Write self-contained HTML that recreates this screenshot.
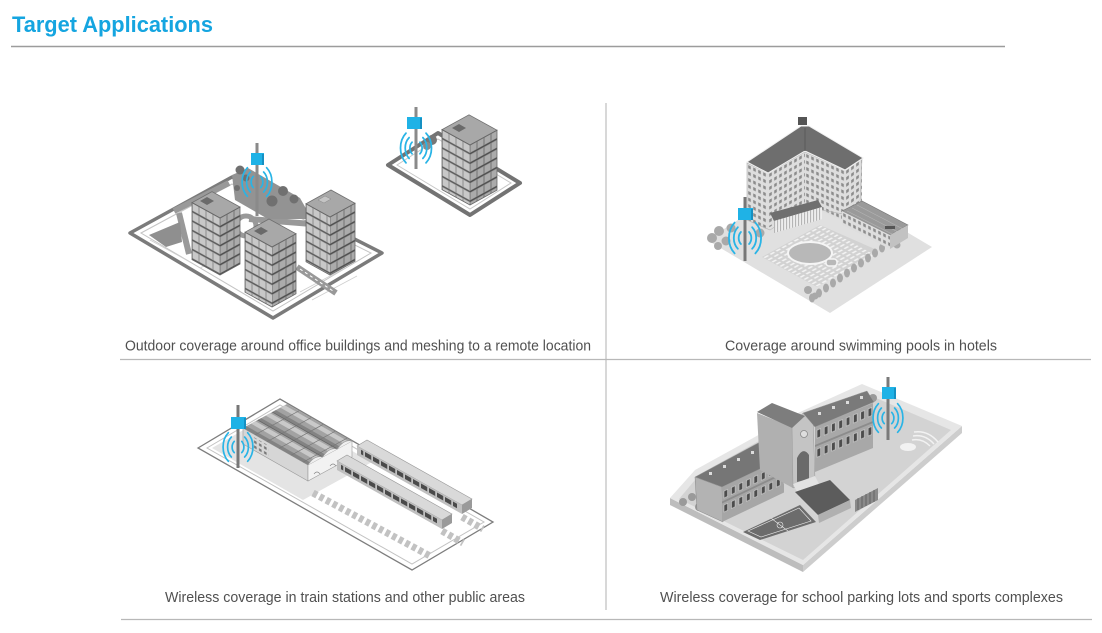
<!DOCTYPE html>
<html><head><meta charset="utf-8"><style>
html,body{margin:0;padding:0;background:#fff;}
svg{display:block;}
</style></head><body>
<svg width="1102" height="633" viewBox="0 0 1102 633" xmlns="http://www.w3.org/2000/svg">
<defs>
<pattern id="fl" width="7" height="9.5" patternUnits="userSpaceOnUse"><rect width="7" height="9.5" fill="#a3a3a3"/><rect x="0.8" y="0.6" width="5.4" height="7" fill="#c8c8c8"/><rect y="8" width="7" height="1.5" fill="#5e5e5e"/></pattern>
<pattern id="fr" width="7" height="9.5" patternUnits="userSpaceOnUse"><rect width="7" height="9.5" fill="#898989"/><rect x="0.8" y="0.6" width="5.4" height="7" fill="#ababab"/><rect y="8" width="7" height="1.5" fill="#505050"/></pattern>
<pattern id="hw" width="5" height="6.5" patternUnits="userSpaceOnUse"><rect width="5" height="6.5" fill="#dedede"/><rect x="1.2" y="1.5" width="2.6" height="3.2" fill="#8c8c8c"/></pattern>
<pattern id="col" width="3" height="20" patternUnits="userSpaceOnUse"><rect width="3" height="20" fill="#ededed"/><rect width="1" height="20" fill="#b0b0b0"/></pattern>
<pattern id="lng" width="6" height="4" patternUnits="userSpaceOnUse"><rect x="0.5" y="1" width="4" height="1.6" fill="#f3f3f3"/></pattern>
<pattern id="tw" width="5" height="5" patternUnits="userSpaceOnUse"><rect x="1" y="1" width="2.6" height="2.6" fill="#7a7a7a"/></pattern>
<pattern id="trw" width="8" height="9" patternUnits="userSpaceOnUse"><rect width="6.2" height="9" fill="#4a4a4a"/></pattern>
<pattern id="sw" width="7.5" height="14" patternUnits="userSpaceOnUse"><rect x="2" y="5" width="3.6" height="7" fill="#4c4c4c" stroke="#e0e0e0" stroke-width="0.5"/></pattern>
<pattern id="sw2" width="7.3" height="19" patternUnits="userSpaceOnUse"><rect x="2" y="4" width="3.6" height="8" fill="#4c4c4c" stroke="#e0e0e0" stroke-width="0.5"/></pattern>
<g id="wv" fill="none" stroke="#29b4e6" stroke-width="1.3" stroke-linecap="round">
<path d="M-2.9,-4.3A4.5,5.6 0 0 0 -2.9,4.3M-5.1,-7.7A8,10 0 0 0 -5.1,7.7M-7.4,-11A11.5,14.4 0 0 0 -7.4,11M2.9,-4.3A4.5,5.6 0 0 1 2.9,4.3M5.1,-7.7A8,10 0 0 1 5.1,7.7M7.4,-11A11.5,14.4 0 0 1 7.4,11"/>
</g>
</defs>

<!-- Title -->
<text x="12" y="32" font-family="Liberation Sans, sans-serif" font-weight="bold" font-size="22.5" fill="#15a5e0" textLength="201" lengthAdjust="spacingAndGlyphs">Target Applications</text>
<line x1="11" y1="46.5" x2="1005" y2="46.5" stroke="#9c9c9c" stroke-width="1.5"/>

<!-- grid lines -->
<line x1="606" y1="103" x2="606" y2="610" stroke="#bdbdbd" stroke-width="1.2"/>
<line x1="120" y1="359.5" x2="1091" y2="359.5" stroke="#b8b8b8" stroke-width="1.2"/>
<line x1="121" y1="619.5" x2="1092" y2="619.5" stroke="#b8b8b8" stroke-width="1.2"/>

<!-- captions -->
<g font-family="Liberation Sans, sans-serif" font-size="15" fill="#505050">
<text x="125" y="350.5" textLength="466" lengthAdjust="spacingAndGlyphs">Outdoor coverage around office buildings and meshing to a remote location</text>
<text x="725" y="350.5" textLength="272" lengthAdjust="spacingAndGlyphs">Coverage around swimming pools in hotels</text>
<text x="165" y="602" textLength="360" lengthAdjust="spacingAndGlyphs">Wireless coverage in train stations and other public areas</text>
<text x="660" y="602" textLength="403" lengthAdjust="spacingAndGlyphs">Wireless coverage for school parking lots and sports complexes</text>
</g>

<!-- ============ OFFICE ============ -->
<polygon points="130,233 232,177 382,253 273,318" fill="#fff" stroke="#7b7b7b" stroke-width="3.5" stroke-linejoin="round"/>
<polygon points="141,233 232,184 371,253 273,311" fill="none" stroke="#c4c4c4" stroke-width="1"/>
<g stroke="#cfcfcf" stroke-width="0.8" fill="none">
<path d="M300,292 L345,268 M312,300 L357,276 M200,268 L240,248 M150,240 L190,262"/>
</g>
<g stroke="#999" stroke-width="6" fill="none">
<path d="M174,211 L229,183"/>
<path d="M179,213 L189,254"/>
<path d="M249,219 L312,224"/>
<path d="M297,267 L336,293"/>
<circle cx="246" cy="226" r="10" stroke-width="5"/>
</g>
<path d="M300,269 L333,291" stroke="#fff" stroke-width="1" stroke-dasharray="3 3"/>
<polygon points="149,235 180,222 182,242 166,247" fill="#8f8f8f"/>
<polygon points="232,175 248,168 300,198 312,219 268,219 235,200" fill="#939393"/>
<g fill="#707070">
<circle cx="240" cy="170" r="4.5"/><circle cx="246" cy="178" r="3.5"/><circle cx="237" cy="188" r="3"/>
<circle cx="283" cy="191" r="5"/><circle cx="272" cy="201" r="5.5"/><circle cx="294" cy="199" r="4.5"/>
</g>
<rect x="255.5" y="143" width="3" height="73" fill="#8a8a8a"/>
<rect x="251" y="153" width="13" height="12" fill="#1fb2e6"/>
<rect x="262" y="154" width="2" height="11" fill="#1690c2"/>
<use href="#wv" transform="translate(257,182) scale(1.3)"/>

<!-- building A -->
<g transform="matrix(1,0.55,0,1,192,202.6)"><rect width="28" height="57" fill="url(#fl)"/></g>
<g transform="matrix(1,-0.55,0,1,220,218)"><rect width="20" height="57" fill="url(#fr)"/></g>
<polygon points="220,218 192,202.6 212,191.6 240,207" fill="#a8a8a8" stroke="#707070" stroke-width="0.8"/>
<polygon points="220,275 192,259.6 192,202.6 220,218 240,207 240,264" fill="none" stroke="#666" stroke-width="0.8"/>
<polygon points="200,201 207,197 214,201 207,205" fill="#6a6a6a"/>
<!-- building C -->
<g transform="matrix(1,0.55,0,1,306,203.8)"><rect width="24" height="58" fill="url(#fl)"/></g>
<g transform="matrix(1,-0.55,0,1,330,217)"><rect width="25" height="58" fill="url(#fr)"/></g>
<polygon points="330,217 306,203.8 331,190 355,203.3" fill="#a8a8a8" stroke="#707070" stroke-width="0.8"/>
<polygon points="330,275 306,261.8 306,203.8 330,217 355,203.3 355,261.3" fill="none" stroke="#666" stroke-width="0.8"/>
<polygon points="318,200 325,196 331,199 324,203" fill="#c4c4c4" stroke="#888" stroke-width="0.5"/>
<!-- building B -->
<g transform="matrix(1,0.55,0,1,245,232.15)"><rect width="27" height="60" fill="url(#fl)"/></g>
<g transform="matrix(1,-0.55,0,1,272,247)"><rect width="24" height="60" fill="url(#fr)"/></g>
<polygon points="272,247 245,232.2 269,219 296,233.8" fill="#a8a8a8" stroke="#707070" stroke-width="0.8"/>
<polygon points="272,307 245,292.2 245,232.2 272,247 296,233.8 296,293.8" fill="none" stroke="#666" stroke-width="0.8"/>
<polygon points="254,231 261,227 268,231 261,235" fill="#6a6a6a"/>

<!-- remote -->
<polygon points="388,165 470,215 520,183 438,133" fill="#fff" stroke="#737373" stroke-width="4" stroke-linejoin="round"/>
<polygon points="397,165 470,209 511,183 438,139" fill="none" stroke="#c8c8c8" stroke-width="1"/>
<circle cx="432" cy="140" r="5" fill="#777"/><circle cx="427" cy="146" r="4" fill="#8a8a8a"/>
<rect x="414.5" y="107" width="3" height="62" fill="#8a8a8a"/>
<rect x="407" y="117" width="15" height="12" fill="#1fb2e6"/>
<rect x="420" y="118" width="2" height="11" fill="#1690c2"/>
<use href="#wv" transform="translate(416,148) scale(1.35)"/>
<g transform="matrix(1,0.55,0,1,442,129.6)"><rect width="28" height="60" fill="url(#fl)"/></g>
<g transform="matrix(1,-0.55,0,1,470,145)"><rect width="27" height="60" fill="url(#fr)"/></g>
<polygon points="470,145 442,129.6 469,114.8 497,130.2" fill="#a8a8a8" stroke="#707070" stroke-width="0.8"/>
<polygon points="470,205 442,189.6 442,129.6 470,145 497,130.2 497,190.2" fill="none" stroke="#666" stroke-width="0.8"/>
<polygon points="452,128 459,124 466,128 459,132" fill="#6a6a6a"/>

<!-- ============ HOTEL ============ -->
<polygon points="707,240 830,313 932,247 809,174" fill="#e0e0e0"/>
<polygon points="762,257 820,225 877,250 817,287" fill="#d2d2d2"/>
<g transform="matrix(1,-0.55,1,0.545,762,257)"><rect width="58" height="55" fill="url(#lng)"/></g>
<ellipse cx="810" cy="253" rx="22" ry="11" fill="#b8b8b8" stroke="#f5f5f5" stroke-width="2"/>
<rect x="826" y="259" width="11" height="7" rx="3" fill="#b8b8b8" stroke="#f5f5f5" stroke-width="1.5"/>
<g fill="#a9a9a9">
<ellipse cx="812" cy="298" rx="3" ry="4.5"/><ellipse cx="819" cy="293" rx="3" ry="4.5"/><ellipse cx="826" cy="288" rx="3" ry="4.5"/>
<ellipse cx="833" cy="283" rx="3" ry="4.5"/><ellipse cx="840" cy="278" rx="3" ry="4.5"/><ellipse cx="847" cy="273" rx="3" ry="4.5"/>
<ellipse cx="854" cy="268" rx="3" ry="4.5"/><ellipse cx="861" cy="263" rx="3" ry="4.5"/><ellipse cx="868" cy="258" rx="3" ry="4.5"/>
<ellipse cx="875" cy="253" rx="3" ry="4.5"/><ellipse cx="882" cy="248" rx="3" ry="4.5"/>
<circle cx="808" cy="290" r="4"/><circle cx="815" cy="296" r="3.5"/>
<circle cx="712" cy="238" r="5"/><circle cx="719" cy="231" r="5"/><circle cx="726" cy="241" r="4.5"/>
<circle cx="731" cy="228" r="4.5"/><circle cx="760" cy="233" r="4.5"/><circle cx="765" cy="224" r="4"/>
<circle cx="718" cy="246" r="4"/><circle cx="897" cy="245" r="3.5"/>
</g>
<!-- building walls -->
<g transform="matrix(1,0.476,0,1,747,163)"><rect width="21" height="57" fill="url(#hw)"/></g>
<g transform="matrix(1,-0.568,0,1,768,173)"><rect width="37" height="55" fill="url(#hw)"/></g>
<g transform="matrix(1,0.45,0,1,805,152)"><rect width="40" height="52" fill="url(#hw)"/></g>
<g transform="matrix(1,-0.706,0,1,845,170)"><rect width="17" height="44" fill="url(#hw)"/></g>
<polygon points="747,163 768,173 805,152 845,170 862,158 860,203 843,214 805,207 770,230 747,220" fill="none" stroke="#b8b8b8" stroke-width="0.7"/>
<polygon points="747,162 801,126 809,126 863,158 845,170 805,151 768,173" fill="#6e6e6e" stroke="#f0f0f0" stroke-width="1"/>
<line x1="805" y1="128" x2="805" y2="151" stroke="#5a5a5a" stroke-width="1"/>
<rect x="798" y="117" width="9" height="8" fill="#555"/>
<!-- front annex -->
<polygon points="770,213 818,200 822,207 774,221" fill="#6f6f6f"/>
<g transform="matrix(1,-0.29,0,1,774,221)"><rect width="48" height="12" fill="url(#col)"/></g>
<!-- right annex -->
<polygon points="842,211 862,201 908,225 890,235" fill="#9a9a9a" stroke="#777" stroke-width="0.6"/>
<path d="M847,211 L894,235 M852,208 L898,232 M857,205 L903,229" stroke="#b5b5b5" stroke-width="0.6"/>
<g transform="matrix(1,0.5,0,1,842,211)"><rect width="48" height="14" fill="url(#hw)"/></g>
<polygon points="890,235 908,225 908,238 890,249" fill="#c2c2c2"/>
<rect x="885" y="226" width="10" height="3" fill="#555"/>
<!-- pole -->
<rect x="743.5" y="197" width="3" height="64" fill="#777"/>
<rect x="738" y="208" width="15" height="12" fill="#1fb2e6"/>
<rect x="751" y="209" width="2" height="11" fill="#1690c2"/>
<use href="#wv" transform="translate(745,238) scale(1.4)"/>

<!-- ============ TRAIN ============ -->
<polygon points="198,448 280,399 493,522 412,570" fill="#fff" stroke="#7d7d7d" stroke-width="1.3"/>
<polygon points="207,448 280,405 484,522 412,564" fill="none" stroke="#c2c2c2" stroke-width="1"/>
<polygon points="212,448 278,410 372,462 303,500" fill="#e4e4e4"/>
<!-- station -->
<polygon points="243,428 308,465 308,481 243,444" fill="#d6d6d6" stroke="#999" stroke-width="0.6"/>
<g transform="matrix(1,0.569,0,1,243,428)"><rect x="10" y="3" width="16" height="11" fill="url(#tw)"/></g>
<g transform="matrix(1,0.569,1,-0.545,243,428)">
<rect width="65" height="44" fill="#a2a2a2"/>
<rect y="0" width="65" height="3.5" fill="#838383"/><rect y="8" width="65" height="4.5" fill="#c9c9c9"/>
<rect y="14.7" width="65" height="3.5" fill="#838383"/><rect y="22.7" width="65" height="4.5" fill="#c9c9c9"/>
<rect y="29.3" width="65" height="3.5" fill="#838383"/><rect y="37.3" width="65" height="4.5" fill="#c9c9c9"/>
<path d="M12,0V44M24,0V44M36,0V44M48,0V44M60,0V44" stroke="#777" stroke-width="0.7"/>
<path d="M0,14.7H65M0,29.3H65" stroke="#666" stroke-width="0.8"/>
</g>
<polygon points="308,465 352,441 352,457 308,481" fill="#f2f2f2" stroke="#999" stroke-width="0.6"/>
<path d="M308,465 Q314,455 322.7,457 Q329,447 337.3,449 Q344,439 352,441" fill="#f0f0f0" stroke="#999" stroke-width="0.7"/>
<path d="M314,474 q3,-4 6,0 M330,466 q3,-4 6,0" fill="none" stroke="#888" stroke-width="0.7"/>
<!-- tracks -->
<g stroke="#c2c2c2" stroke-width="7" stroke-dasharray="4.5 3" fill="none">
<path d="M313,493 L430,556"/>
<path d="M442,531 L463,543"/>
<path d="M462,517 L483,529"/>
</g>
<!-- train 2 -->
<polygon points="357,446 462,505 472,499 367,440" fill="#d9d9d9" stroke="#999" stroke-width="0.6"/>
<g transform="matrix(1,0.562,0,1,357,446)"><rect width="105" height="9" fill="#c0c0c0"/><rect x="4" y="1.5" width="96" height="4.5" fill="url(#trw)"/></g>
<polygon points="462,514 472,508 472,499 462,505" fill="#9a9a9a"/>
<!-- train 1 -->
<polygon points="337,461 442,520 452,514 347,455" fill="#d9d9d9" stroke="#999" stroke-width="0.6"/>
<g transform="matrix(1,0.562,0,1,337,461)"><rect width="105" height="9" fill="#c0c0c0"/><rect x="4" y="1.5" width="96" height="4.5" fill="url(#trw)"/></g>
<polygon points="442,529 452,523 452,514 442,520" fill="#9a9a9a"/>
<!-- pole -->
<rect x="236.5" y="405" width="3" height="63" fill="#777"/>
<rect x="231" y="417" width="15" height="12" fill="#1fb2e6"/>
<rect x="244" y="418" width="2" height="11" fill="#1690c2"/>
<use href="#wv" transform="translate(238,447) scale(1.3)"/>

<!-- ============ SCHOOL ============ -->
<polygon points="670,498 803,565 803,572 670,505" fill="#bdbdbd"/>
<polygon points="803,565 962,426 962,433 803,572" fill="#cdcdcd"/>
<polygon points="670,498 803,565 962,426 862,384 800,412 695,470" fill="#e6e6e6"/>
<polygon points="679,499 803,560 951,430 862,392 800,418 700,474" fill="#d3d3d3"/>
<!-- amphitheatre -->
<ellipse cx="908" cy="447" rx="8" ry="4" fill="#f2f2f2"/>
<path d="M912,440 q10,-2 18,6 M913,436 q12,-2 21,8 M914,432 q14,-2 24,10" fill="none" stroke="#f2f2f2" stroke-width="1.5"/>
<!-- trees -->
<g fill="#9a9a9a">
<circle cx="683" cy="502" r="4"/><circle cx="692" cy="497" r="4"/><circle cx="699" cy="507" r="4"/>
<circle cx="709" cy="502" r="4"/><circle cx="717" cy="512" r="4"/><circle cx="873" cy="398" r="4"/>
</g>
<!-- left wing -->
<polygon points="695,477 722,487 723,522 697,510" fill="#b3b3b3" stroke="#888" stroke-width="0.5"/>
<g transform="matrix(1,-0.475,0,1,722,487)"><rect width="62" height="35" fill="#a6a6a6"/><rect width="62" height="30" fill="url(#sw)"/><rect y="14.5" width="62" height="2" fill="#8c8c8c"/></g>
<polygon points="695,477 760,442 783,458 722,487" fill="#767676" stroke="#999" stroke-width="0.5"/>
<g fill="#dcdcdc"><rect x="709" y="472" width="3" height="3"/><rect x="723" y="465" width="3" height="3"/><rect x="737" y="458" width="3" height="3"/><rect x="751" y="451" width="3" height="3"/></g>
<!-- tower -->
<polygon points="757,413 792,427 793,488 760,470" fill="#b0b0b0"/>
<polygon points="792,427 803,413 813,418 815,480 793,488" fill="#c4c4c4" stroke="#999" stroke-width="0.5"/>
<polygon points="757,412 772,403 805,416 792,428" fill="#7d7d7d"/>
<path d="M797,482 V458 Q803,446 809,455 V479 Z" fill="#6a6a6a"/>
<circle cx="804" cy="434" r="3.5" fill="#ddd" stroke="#888" stroke-width="0.8"/>
<polygon points="793,484 815,476 822,490 800,498" fill="#e2e2e2"/>
<!-- right wing -->
<g transform="matrix(1,-0.414,0,1,815,427)"><rect width="58" height="45" fill="#a8a8a8"/><rect width="58" height="38" fill="url(#sw2)"/><rect y="18" width="58" height="2" fill="#8c8c8c"/></g>
<polygon points="803,413 867,391 874,402 815,427" fill="#7a7a7a" stroke="#999" stroke-width="0.5"/>
<g fill="#dcdcdc"><rect x="818" y="412" width="3" height="3"/><rect x="832" y="406" width="3" height="3"/><rect x="846" y="401" width="3" height="3"/><rect x="860" y="396" width="3" height="3"/></g>
<!-- lot, gate, court -->
<polygon points="795,492 830,480 850,500 818,515" fill="#5c5c5c"/>
<polygon points="818,515 850,500 851,508 819,523" fill="#b0b0b0"/>
<polygon points="855,500 878,488 878,500 855,512" fill="#8a8a8a"/>
<path d="M858,498V510M862,496V508M866,494V506M870,492V504M874,490V502" stroke="#555" stroke-width="0.7"/>
<polygon points="743,532 800,505 816,522 760,540" fill="#6c6c6c"/>
<polygon points="748,531 799,508 811,521 761,537" fill="none" stroke="#eee" stroke-width="0.6"/>
<path d="M771.5,518.5 L788,531" stroke="#eee" stroke-width="0.6"/>
<circle cx="780" cy="525" r="3" fill="none" stroke="#eee" stroke-width="0.6"/>
<!-- pole -->
<rect x="886.5" y="377" width="3" height="63" fill="#7a7a7a"/>
<rect x="882" y="387" width="14" height="12" fill="#1fb2e6"/>
<rect x="894" y="388" width="2" height="11" fill="#1690c2"/>
<use href="#wv" transform="translate(888,418) scale(1.3)"/>
</svg>
</body></html>
